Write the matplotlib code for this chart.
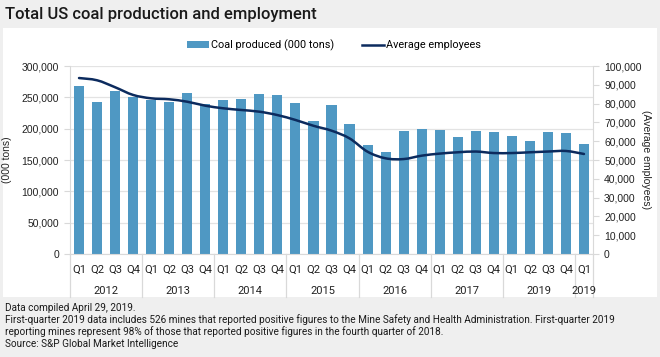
import matplotlib
matplotlib.use('Agg')
import matplotlib.pyplot as plt
import numpy as np
from matplotlib.patches import Rectangle, PathPatch
from matplotlib.path import Path
from matplotlib.lines import Line2D
from matplotlib.ticker import FuncFormatter
import matplotlib.transforms as mtransforms

quarters = ['Q1', 'Q2', 'Q3', 'Q4'] * 7 + ['Q1']
years = ['2012', '2013', '2014', '2015', '2016', '2017', '2019', '2019']
coal = [268, 242, 260, 250, 245, 243, 257, 239,
        246, 247, 255, 253, 241, 212, 237, 208,
        174, 162, 196, 200, 198, 187, 197, 195,
        188, 181, 195, 193, 176]
coal = [v * 1000 for v in coal]
employees = [93.6, 92.4, 88.7, 84.6, 82.8, 82.3, 81.0, 78.9,
             77.5, 76.6, 75.7, 73.9, 71.3, 68.2, 65.6, 61.5,
             54.4, 50.9, 50.5, 52.3, 53.4, 54.1, 54.5, 53.7,
             53.7, 54.1, 54.5, 54.8, 53.2]
employees = [v * 1000 for v in employees]

narrow = ['Roboto', 'DejaVu Sans']
sans = ['Liberation Sans', 'DejaVu Sans']
bar_color = '#4f98c3'
line_color = '#0c2b5e'
grey = '#d9d9d9'

W, H = 660, 357
fig = plt.figure(figsize=(W / 100, H / 100), dpi=100, facecolor='#efefef')

# white panel
fig.patches.append(Rectangle((3 / W, 1 - 297 / H), 654 / W, 269 / H,
                             transform=fig.transFigure, facecolor='white',
                             edgecolor='none', zorder=-10))

fig.text(5 / W, 1 - 14 / H, 'Total US coal production and employment',
         fontsize=12, fontweight='medium', family=narrow, color='#1a1a1a',
         va='center', ha='left')

ax = fig.add_axes([70 / W, 1 - 254 / H, 523 / W, 188 / H])
ax.set_facecolor('none')
x = np.arange(len(coal))
ax.bar(x, coal, width=0.56, color=bar_color, zorder=2)
ax.set_xlim(-0.5, len(coal) - 0.5)
ax.set_ylim(0, 300000)
ax.set_yticks(np.arange(0, 300001, 50000))
ax.yaxis.set_major_formatter(FuncFormatter(lambda v, p: f'{int(v):,}'))
ax.grid(axis='y', color='#e3e3e3', linewidth=0.9, zorder=0)
ax.set_axisbelow(True)
for s in ['top', 'right']:
    ax.spines[s].set_visible(False)
ax.spines['left'].set_color(grey)
ax.spines['bottom'].set_color(grey)
ax.tick_params(axis='y', colors=grey, labelcolor='#222222', labelsize=7.5,
               length=4, pad=4)
for t in ax.get_yticklabels():
    t.set_family(sans)
ax.set_ylabel('(000 tons)', fontsize=7.5, family=sans, color='#222222')
ax.yaxis.set_label_coords((12 - 70) / 523, 0.5)

ax.set_xticks(x)
ax.set_xticklabels(quarters, fontsize=8, family=narrow, color='#222222')
ax.tick_params(axis='x', length=0, pad=8)

trans = mtransforms.blended_transform_factory(ax.transData, ax.transAxes)
bottom = -(297 - 254) / 188
for b in list(range(-1, len(coal), 4)) + [len(coal) - 1]:
    ax.plot([b + 0.5, b + 0.5], [0, bottom], transform=trans, color=grey,
            linewidth=0.9, clip_on=False)
for i, yr in enumerate(years):
    start = i * 4
    end = min(start + 3, len(coal) - 1)
    ax.text((start + end) / 2, -(291 - 254) / 188, yr, transform=trans,
            ha='center', va='center', fontsize=8, family=narrow, color='#222222')

ax2 = ax.twinx()
ax2.set_ylim(0, 100000)
ax2.set_yticks(np.arange(0, 100001, 10000))
ax2.yaxis.set_major_formatter(FuncFormatter(lambda v, p: f'{int(v):,}'))
for s in ['top', 'left', 'bottom']:
    ax2.spines[s].set_visible(False)
ax2.spines['right'].set_color(grey)
ax2.tick_params(axis='y', colors=grey, labelcolor='#222222', labelsize=7.5,
                length=4, pad=4)
for t in ax2.get_yticklabels():
    t.set_family(sans)
ax2.set_ylabel('(Average employees)', fontsize=7.5, family=sans,
               color='#222222', rotation=270, va='center')
ax2.yaxis.set_label_coords((646 - 70) / 523, 0.5)

# smoothed line through the data points (Catmull-Rom as cubic Bezier)
pts = np.column_stack([x, employees]).astype(float)
verts = [pts[0]]
codes = [Path.MOVETO]
for i in range(len(pts) - 1):
    p0 = pts[i - 1] if i > 0 else pts[i]
    p1, p2 = pts[i], pts[i + 1]
    p3 = pts[i + 2] if i + 2 < len(pts) else pts[i + 1]
    c1 = p1 + (p2 - p0) / 6
    c2 = p2 - (p3 - p1) / 6
    verts += [c1, c2, p2]
    codes += [Path.CURVE4] * 3
ax2.add_patch(PathPatch(Path(verts, codes), facecolor='none',
                        edgecolor=line_color, linewidth=1.8, zorder=3,
                        capstyle='round', joinstyle='round'))

handles = [Rectangle((0, 0), 1, 1, facecolor=bar_color),
           Line2D([0], [0], color=line_color, linewidth=1.8)]
fig.legend(handles, ['Coal produced (000 tons)', 'Average employees'],
           loc='center', bbox_to_anchor=(334 / W, 1 - 45 / H), ncol=2,
           frameon=False, prop={'family': narrow, 'size': 7.8},
           handlelength=2.0, handleheight=0.6, columnspacing=2.6,
           handletextpad=0.2)

footer = ('Data compiled April 29, 2019.\n'
          'First-quarter 2019 data includes 526 mines that reported positive figures to the '
          'Mine Safety and Health Administration. First-quarter 2019\n'
          'reporting mines represent 98% of those that reported positive figures in the '
          'fourth quarter of 2018.\n'
          'Source: S&P Global Market Intelligence')
fig.text(5 / W, 1 - 303 / H, footer, fontsize=7.2, family=narrow,
         color='#1a1a1a', va='top', ha='left', linespacing=1.15)

fig.savefig('out.png', dpi=100, facecolor=fig.get_facecolor())
